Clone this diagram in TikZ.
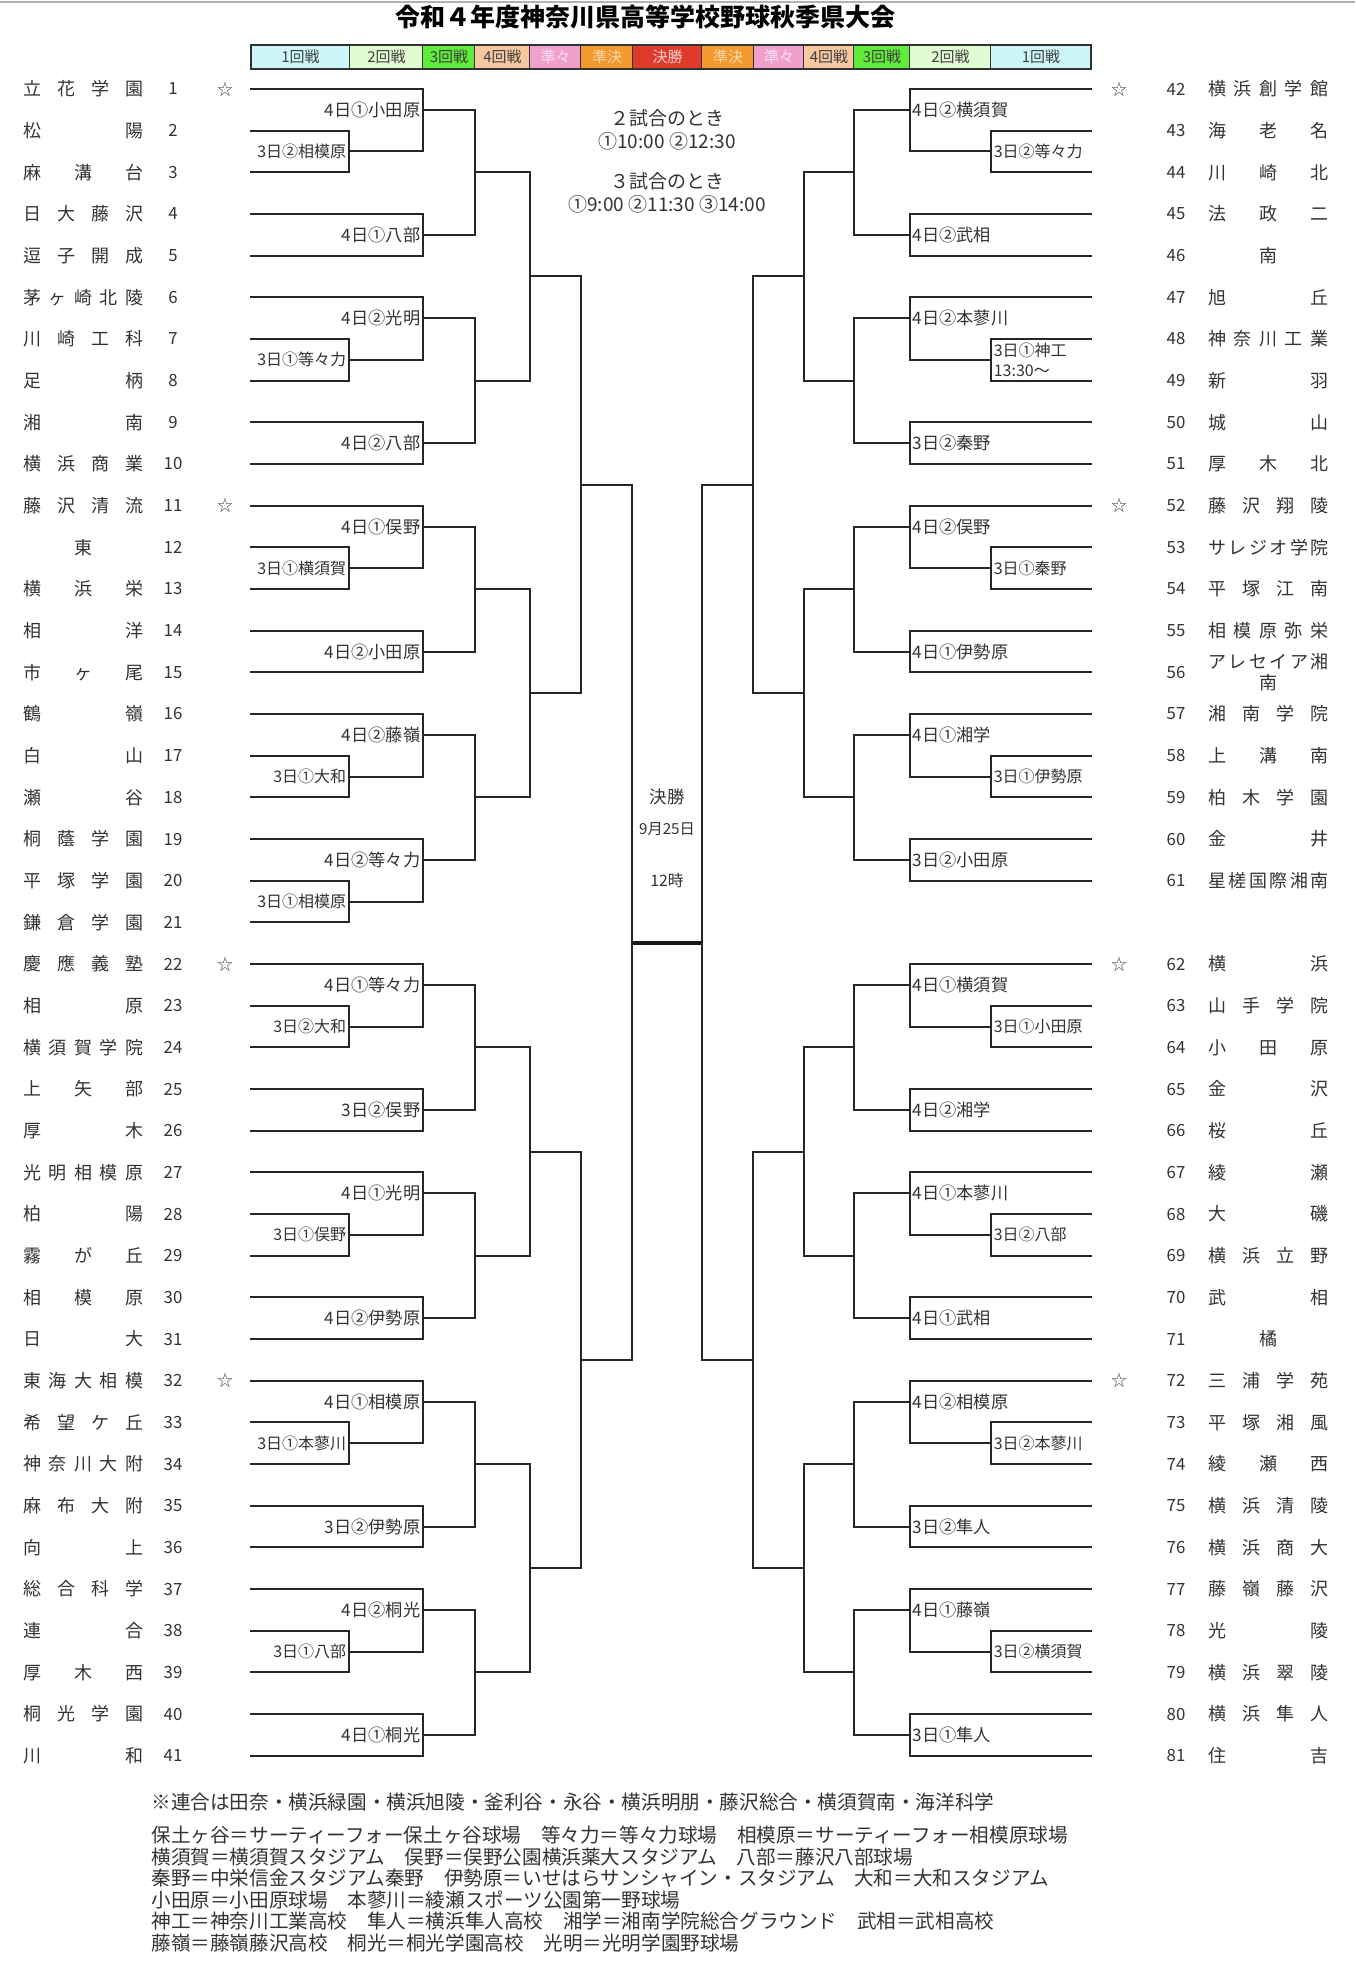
\documentclass[tikz,border=0pt]{standalone}
\usepackage{fontspec}
\setmainfont{Noto Sans CJK JP}
\definecolor{r1col}{HTML}{CCF6FA}
\definecolor{r2col}{HTML}{E2FCD2}
\definecolor{r3col}{HTML}{5EEB3A}
\definecolor{r4col}{HTML}{F7C8A0}
\definecolor{qfcol}{HTML}{F0A0CC}
\definecolor{sfcol}{HTML}{F39A2E}
\definecolor{fcol}{HTML}{E03A2A}
\tikzset{
  bline/.style={line width=1pt, draw=black!85, line cap=rect},
  fline/.style={line width=1.7pt, draw=black!90},
  tname/.style={anchor=west, inner sep=0pt, font=\fontsize{9}{10.5}\selectfont, text=black!80},
  tnum/.style={inner sep=0pt, font=\fontsize{8.4}{10}\selectfont, text=black!80},
  seed/.style={inner sep=0pt, font=\fontsize{8}{10}\selectfont, text=black!70},
  lab/.style={inner sep=1.2pt, align=left, font=\fontsize{8.6}{10}\selectfont, text=black!80},
  labI/.style={lab, font=\fontsize{8}{10}\selectfont},
  cell/.style={inner sep=0pt, font=\fontsize{7.5}{8}\selectfont},
  info/.style={align=center, inner sep=0pt, font=\fontsize{9.5}{11.5}\selectfont, text=black!80},
  note/.style={anchor=west, inner sep=0pt, font=\fontsize{9.8}{11}\selectfont, text=black!80},
}
% row index -> y (px, downwards)
\newcommand{\Ry}[1]{89+41.667*(#1)}
% name spread over the full name column
\newcommand{\nm}[1]{\makebox[60pt][s]{\spaceskip=0pt plus 1fil\relax #1}}
% team line from outer edge to column x
\newcommand{\entry}[2]{\draw[bline] (\xO,{\Ry{#1}}) -- (#2,{\Ry{#1}});}
% game: vertical at #1 from row #2 to #3, out at row #4 towards #5
\newcommand{\game}[5]{\draw[bline] (#1,{\Ry{#2}}) -- (#1,{\Ry{#3}}) (#1,{\Ry{#4}}) -- (#5,{\Ry{#4}});}
% five rows: seed, first-round pair, second pair
\newcommand{\quarter}[4]{%
  \entry{#1}{\xII}\entry{#1+1}{\xI}\entry{#1+2}{\xI}\entry{#1+3}{\xII}\entry{#1+4}{\xII}
  \game{\xI}{#1+1}{#1+2}{#1+1.5}{\xII}
  \game{\xII}{#1}{#1+1.5}{#1+0.5}{\xIII}
  \game{\xII}{#1+3}{#1+4}{#1+3.5}{\xIII}
  \game{\xIII}{#1+0.5}{#1+3.5}{#1+2}{\xIV}
  \node[labI,toside] (\side#1a) at (\xI,{\Ry{#1+1.5}}) {#2};
  \node[lab,toside] (\side#1b) at (\xII,{\Ry{#1+0.5}}) {#3};
  \node[lab,toside] (\side#1c) at (\xII,{\Ry{#1+3.5}}) {#4};
}

\begin{document}
\begin{tikzpicture}[x=0.5pt,y=-0.5pt]
  \fill[white] (0,0) rectangle (1355,1973);
  \useasboundingbox (0,0) rectangle (1355,1973);
  \draw[black!30, line width=1pt] (0,2) -- (1355,2);

  % title and round header
  \node[font=\bfseries\fontsize{12.5}{14}\selectfont, inner sep=0pt] (title) at (645,17)
    {令和４年度神奈川県高等学校野球秋季県大会};
  \foreach \a/\b/\c/\k/\t [count=\i] in {
      251/350/r1col/black!75/1回戦, 350/423/r2col/black!75/2回戦,
      423/475/r3col/black!75/3回戦, 475/530/r4col/black!75/4回戦,
      530/581/qfcol/white!70!qfcol/準々, 581/633/sfcol/white!60!sfcol/準決,
      633/702/fcol/white!75!fcol/決勝, 702/754/sfcol/white!60!sfcol/準決,
      754/804/qfcol/white!70!qfcol/準々, 804/854/r4col/black!75/4回戦,
      854/910/r3col/black!75/3回戦, 910/991/r2col/black!75/2回戦,
      991/1091/r1col/black!75/1回戦} {
    \fill[\c] (\a,45) rectangle (\b,69);
    \draw[black!80, line width=0.8pt] (\b,45) -- (\b,69);
    \node[cell, text=\k] (h\i) at ({(\a+\b)/2},57) {\t};
  }
  \draw[black!80, line width=1.2pt] (251,45) rectangle (1091,69);

  \node[info] (two) at (667,129.5) {２試合のとき\\①10:00 ②12:30};
  \node[info] (three) at (667,192.5) {３試合のとき\\①9:00 ②11:30 ③14:00};

  % left half
  \begin{scope}[toside/.style={anchor=east}]
    \def\side{L}\def\xO{251}\def\xI{349}\def\xII{423}\def\xIII{475}
    \def\xIV{530}\def\xV{581}\def\xVI{632}
    \quarter{0}{3日②相模原}{4日①小田原}{4日①八部}
    \quarter{5}{3日①等々力}{4日②光明}{4日②八部}
    \game{\xIV}{2}{7}{4.5}{\xV}
    \quarter{10}{3日①横須賀}{4日①俣野}{4日②小田原}
    % six rows, two seeds
    \entry{15}{\xII}\entry{16}{\xI}\entry{17}{\xI}
    \entry{18}{\xII}\entry{19}{\xI}\entry{20}{\xI}
    \game{\xI}{16}{17}{16.5}{\xII}
    \game{\xI}{19}{20}{19.5}{\xII}
    \game{\xII}{15}{16.5}{15.5}{\xIII}
    \game{\xII}{18}{19.5}{18.5}{\xIII}
    \game{\xIII}{15.5}{18.5}{17}{\xIV}
    \node[labI,toside] (L15a) at (\xI,{\Ry{16.5}}) {3日①大和};
    \node[lab,toside] (L15b) at (\xII,{\Ry{15.5}}) {4日②藤嶺};
    \node[labI,toside] (L15d) at (\xI,{\Ry{19.5}}) {3日①相模原};
    \node[lab,toside] (L15c) at (\xII,{\Ry{18.5}}) {4日②等々力};
    \game{\xIV}{12}{17}{14.5}{\xV}
    \quarter{21}{3日②大和}{4日①等々力}{3日②俣野}
    \quarter{26}{3日①俣野}{4日①光明}{4日②伊勢原}
    \game{\xIV}{23}{28}{25.5}{\xV}
    \quarter{31}{3日①本蓼川}{4日①相模原}{3日②伊勢原}
    \quarter{36}{3日①八部}{4日②桐光}{4日①桐光}
    \game{\xIV}{33}{38}{35.5}{\xV}
    \game{\xV}{4.5}{14.5}{9.5}{\xVI}
    \game{\xV}{25.5}{35.5}{30.5}{\xVI}
    \draw[bline] (\xVI,{\Ry{9.5}}) -- (\xVI,{\Ry{30.5}});
  \end{scope}

  % right half
  \begin{scope}[toside/.style={anchor=west}]
    \def\side{R}\def\xO{1091}\def\xI{991}\def\xII{910}\def\xIII{854}
    \def\xIV{804}\def\xV{753}\def\xVI{702}
    \quarter{0}{3日②等々力}{4日②横須賀}{4日②武相}
    \quarter{5}{3日①神工\\13:30～}{4日②本蓼川}{3日②秦野}
    \game{\xIV}{2}{7}{4.5}{\xV}
    \quarter{10}{3日①秦野}{4日②俣野}{4日①伊勢原}
    \quarter{15}{3日①伊勢原}{4日①湘学}{3日②小田原}
    \game{\xIV}{12}{17}{14.5}{\xV}
    \quarter{21}{3日①小田原}{4日①横須賀}{4日②湘学}
    \quarter{26}{3日②八部}{4日①本蓼川}{4日①武相}
    \game{\xIV}{23}{28}{25.5}{\xV}
    \quarter{31}{3日②本蓼川}{4日②相模原}{3日②隼人}
    \quarter{36}{3日②横須賀}{4日①藤嶺}{3日①隼人}
    \game{\xIV}{33}{38}{35.5}{\xV}
    \game{\xV}{4.5}{14.5}{9.5}{\xVI}
    \game{\xV}{25.5}{35.5}{30.5}{\xVI}
    \draw[bline] (\xVI,{\Ry{9.5}}) -- (\xVI,{\Ry{30.5}});
  \end{scope}

  % final
  \draw[fline] (632,{\Ry{20.5}}) -- (702,{\Ry{20.5}});
  \node[font=\fontsize{8.7}{10}\selectfont, text=black!80] (fw) at (667,797) {決勝};
  \node[font=\fontsize{7.6}{9}\selectfont, text=black!80] (fd) at (667,829) {9月25日};
  \node[font=\fontsize{7.9}{9}\selectfont, text=black!80] (ft) at (667,880) {12時};

  % teams, left
  \foreach \n/\s in {1/{立 花 学 園},2/{松 陽},3/{麻 溝 台},4/{日 大 藤 沢},5/{逗 子 開 成},
      6/{茅 ヶ 崎 北 陵},7/{川 崎 工 科},8/{足 柄},9/{湘 南},10/{横 浜 商 業},
      11/{藤 沢 清 流},12/{\hfil 東\hfil},13/{横 浜 栄},14/{相 洋},15/{市 ヶ 尾},
      16/{鶴 嶺},17/{白 山},18/{瀬 谷},19/{桐 蔭 学 園},20/{平 塚 学 園},21/{鎌 倉 学 園},
      22/{慶 應 義 塾},23/{相 原},24/{横 須 賀 学 院},25/{上 矢 部},26/{厚 木},
      27/{光 明 相 模 原},28/{柏 陽},29/{霧 が 丘},30/{相 模 原},31/{日 大},
      32/{東 海 大 相 模},33/{希 望 ケ 丘},34/{神 奈 川 大 附},35/{麻 布 大 附},36/{向 上},
      37/{総 合 科 学},38/{連 合},39/{厚 木 西},40/{桐 光 学 園},41/{川 和}} {
    \node[tname] (t\n) at (23,{\Ry{\n-1}}) {\nm{\s}};
    \node[tnum] (n\n) at (173,{\Ry{\n-1}}) {\n};
  }
  \foreach \n/\r in {1/0,11/10,22/21,32/31}
    \node[seed] (s\n) at (225,{\Ry{\r}}) {☆};

  % teams, right
  \foreach \n/\s in {42/{横 浜 創 学 館},43/{海 老 名},44/{川 崎 北},45/{法 政 二},
      46/{\hfil 南\hfil},47/{旭 丘},48/{神 奈 川 工 業},49/{新 羽},50/{城 山},51/{厚 木 北},
      52/{藤 沢 翔 陵},53/{サ レ ジ オ 学 院},54/{平 塚 江 南},55/{相 模 原 弥 栄},
      57/{湘 南 学 院},58/{上 溝 南},59/{柏 木 学 園},60/{金 井},61/{星 槎 国 際 湘 南}} {
    \node[tname] (t\n) at (1208,{\Ry{\n-42}}) {\nm{\s}};
  }
  \node[tname, align=center] (t56) at (1208,{\Ry{14}}) {\nm{ア レ セ イ ア 湘}\\南};
  \foreach \n/\s in {62/{横 浜},63/{山 手 学 院},64/{小 田 原},65/{金 沢},66/{桜 丘},
      67/{綾 瀬},68/{大 磯},69/{横 浜 立 野},70/{武 相},71/{\hfil 橘\hfil},
      72/{三 浦 学 苑},73/{平 塚 湘 風},74/{綾 瀬 西},75/{横 浜 清 陵},76/{横 浜 商 大},
      77/{藤 嶺 藤 沢},78/{光 陵},79/{横 浜 翠 陵},80/{横 浜 隼 人},81/{住 吉}} {
    \node[tname] (t\n) at (1208,{\Ry{\n-41}}) {\nm{\s}};
  }
  \foreach \n in {42,...,61}
    \node[tnum] (n\n) at (1176,{\Ry{\n-42}}) {\n};
  \foreach \n in {62,...,81}
    \node[tnum] (n\n) at (1176,{\Ry{\n-41}}) {\n};
  \foreach \n/\r in {42/0,52/10,62/21,72/31}
    \node[seed] (s\n) at (1119,{\Ry{\r}}) {☆};

  % notes
  \node[note] (f0) at (151,1802)
    {※連合は田奈・横浜緑園・横浜旭陵・釜利谷・永谷・横浜明朋・藤沢総合・横須賀南・海洋科学};
  \foreach \s [count=\i] in {
      保土ヶ谷＝サーティーフォー保土ヶ谷球場　等々力＝等々力球場　相模原＝サーティーフォー相模原球場,
      横須賀＝横須賀スタジアム　俣野＝俣野公園横浜薬大スタジアム　八部＝藤沢八部球場,
      秦野＝中栄信金スタジアム秦野　伊勢原＝いせはらサンシャイン・スタジアム　大和＝大和スタジアム,
      小田原＝小田原球場　本蓼川＝綾瀬スポーツ公園第一野球場,
      神工＝神奈川工業高校　隼人＝横浜隼人高校　湘学＝湘南学院総合グラウンド　武相＝武相高校,
      藤嶺＝藤嶺藤沢高校　桐光＝桐光学園高校　光明＝光明学園野球場}
    \node[note] (f\i) at (151,{1835+21.6*(\i-1)}) {\s};
\end{tikzpicture}
\end{document}
